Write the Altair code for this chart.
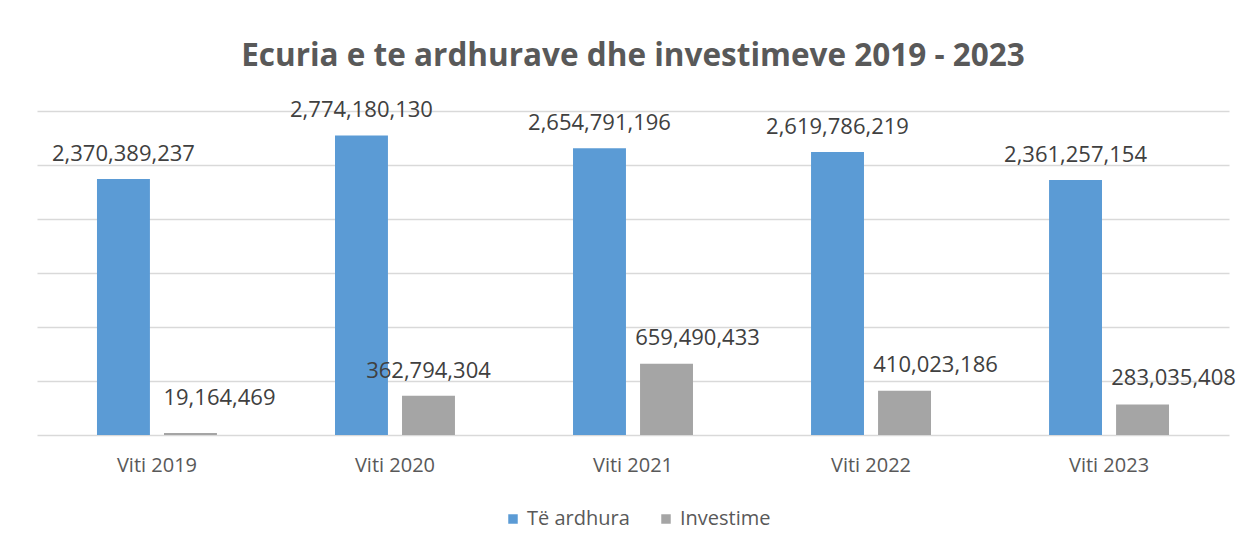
import altair as alt
import pandas as pd

categories = ["Viti 2019", "Viti 2020", "Viti 2021", "Viti 2022", "Viti 2023"]
series_names = ["Të ardhura", "Investime"]
te_ardhura = [2370389237, 2774180130, 2654791196, 2619786219, 2361257154]
investime = [19164469, 362794304, 659490433, 410023186, 283035408]
colors = ["#5B9BD5", "#A5A5A5"]

rows = []
for c, a, i in zip(categories, te_ardhura, investime):
    rows.append({"category": c, "series": series_names[0], "value": a})
    rows.append({"category": c, "series": series_names[1], "value": i})
df = pd.DataFrame(rows)

FONT = "Open Sans"

x_enc = alt.X("category:N", sort=categories, title=None,
              scale=alt.Scale(paddingInner=0.496, paddingOuter=0.252),
              axis=alt.Axis(labelFontSize=20, labelColor="#595959", labelFont=FONT,
                            domain=False, ticks=False, labelPadding=20, labelAngle=0))
xo_enc = alt.XOffset("series:N", sort=series_names,
                     scale=alt.Scale(paddingInner=0.21, paddingOuter=0))
y_enc = alt.Y("value:Q", title=None,
              scale=alt.Scale(domain=[0, 3000000000], nice=False),
              axis=alt.Axis(values=[0, 500000000, 1000000000, 1500000000, 2000000000,
                                    2500000000, 3000000000],
                            labels=False, ticks=False, domain=False,
                            grid=True, gridColor="#D9D9D9", gridWidth=1.5))

base = alt.Chart(df)

bars = base.mark_bar().encode(
    x=x_enc, xOffset=xo_enc, y=y_enc,
    color=alt.Color("series:N", sort=series_names,
                    scale=alt.Scale(domain=series_names, range=colors),
                    legend=alt.Legend(title=None, orient="none", direction="horizontal",
                                      legendX=466, legendY=398,
                                      symbolType="square", symbolSize=90,
                                      symbolStrokeWidth=0,
                                      labelFontSize=20, labelColor="#595959",
                                      labelFont=FONT, columnPadding=26,
                                      padding=0)),
)

def label_layer(filt, dx, dy):
    return base.transform_filter(filt).mark_text(
        dx=dx, dy=dy, baseline="middle", align="center",
        fontSize=22, font=FONT, color="#404040"
    ).encode(x=alt.X("category:N", sort=categories), xOffset=xo_enc,
             y=alt.Y("value:Q"),
             text=alt.Text("value:Q", format=",d"))

lbl_blue = label_layer(alt.datum.series == series_names[0], 0, -25)
lbl_gray_2019 = label_layer((alt.datum.series == series_names[1]) & (alt.datum.category == "Viti 2019"), 29, -35)
lbl_gray_2020 = label_layer((alt.datum.series == series_names[1]) & (alt.datum.category == "Viti 2020"), 0, -25)
lbl_gray_rest = label_layer((alt.datum.series == series_names[1]) & (alt.datum.category != "Viti 2019") & (alt.datum.category != "Viti 2020"), 31, -26)

chart = alt.layer(bars, lbl_blue, lbl_gray_2019, lbl_gray_2020, lbl_gray_rest).properties(
    width=1192, height=324,
    background="white",
    title=alt.TitleParams("Ecuria e te ardhurave dhe investimeve 2019 - 2023",
                          fontSize=31.5, font=FONT, fontWeight="bold", color="#595959",
                          anchor="middle", offset=-5, baseline="bottom"),
    autosize=alt.AutoSizeParams(type="none"),
    padding={"left": 29, "top": 103, "right": 9, "bottom": 108},
).configure_view(stroke=None, strokeWidth=0)

chart.save("out.html", embed_options={"renderer": "svg", "actions": False})
